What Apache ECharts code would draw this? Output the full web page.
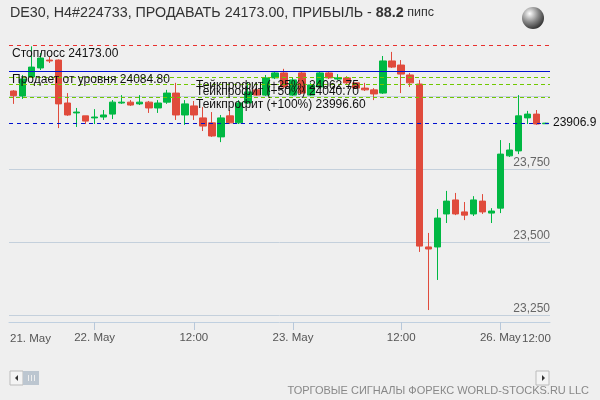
<!DOCTYPE html>
<html><head><meta charset="utf-8">
<script src="https://cdn.jsdelivr.net/npm/echarts@6/dist/echarts.min.js"></script>
<style>html,body{margin:0;padding:0;background:#efefef}#c{width:600px;height:400px}</style>
</head><body><div id="c"></div>
<script>
// categories (H4 candles)
const categories = [];
for (let i = 0; i < 60; i++) categories.push('c' + i);
// tick labels: index -> label
const tickLabels = {9:'22. May', 20:'12:00', 31:'23. May', 43:'12:00', 54:'26. May', 58:'12:00'};
const firstLabel = '21. May';
// candles: [open, close, low, high]
const candles = [
[24017,24001,23973,24020],[24000,24058,23990,24072],[24065,24099,24062,24170],[24096,24130,24089,24147],
[24123,24120,24113,24134],[24123,23973,23890,24125],[23976,23935,23932,24010],[23942,23945,23894,23959],
[23932,23914,23904,23932],[23925,23928,23904,23955],[23928,23935,23918,23952],[23938,23979,23921,23986],
[23976,23979,23973,24003],[23979,23969,23966,23986],[23973,23979,23969,24003],[23979,23959,23942,23983],
[23959,23976,23942,23986],[23979,24010,23973,24021],[24010,23935,23918,24045],[23935,23973,23901,23986],
[23966,23935,23918,23983],[23925,23897,23880,23962],[23908,23863,23860,23945],[23860,23925,23842,23935],
[23932,23908,23904,23952],[23908,23976,23904,23986],[23976,24014,23973,24048],[24021,24003,24000,24031],
[24003,24062,24000,24072],[24062,24079,24058,24082],[24079,24031,24027,24093],[24003,24055,24000,24062],
[24079,24010,24007,24082],[24003,24038,24000,24045],[24031,24079,24027,24082],[24079,24062,24058,24082],
[24058,24062,24055,24075],[24062,24045,24041,24068],[24045,24027,24024,24045],[24027,24021,24017,24045],
[24021,24007,23986,24027],[24010,24120,24007,24137],[24120,24099,24096,24151],[24106,24075,24010,24123],
[24072,24045,24031,24079],[24041,23486,23466,24055],[23483,23476,23267,23531],[23483,23582,23370,23613],
[23596,23640,23565,23675],[23644,23596,23592,23668],[23603,23592,23575,23637],[23596,23644,23589,23657],
[23640,23603,23596,23664],[23599,23606,23565,23616],[23616,23801,23599,23849],[23795,23815,23791,23839],
[23812,23932,23801,24003],[23925,23938,23904,23949],[23938,23904,23901,23952],[23905,23907,23905,23908]
];
const stopLoss = 24173.00, sellLevel = 24084.80, tp25 = 24062.75, tp50 = 24040.70, tp100 = 23996.60, lastPrice = 23906.9;

const chart = echarts.init(document.getElementById('c'));
const F = 'Liberation Sans, Arial, sans-serif';
const lbl = (t, pad) => ({show:true, position:'insideStartBottom', formatter:t, color:'#111', fontSize:12, fontFamily:F, distance:2, padding:[0,0,0,pad]});
chart.setOption({
  backgroundColor:'#efefef',
  animation:false,
  grid:{left:9, right:50, top:30, bottom:85, outerBoundsMode:'none', containLabel:false},
  xAxis:{type:'category', data:categories, offset:7,
    axisLine:{lineStyle:{color:'#c0d0e0'}},
    axisTick:{show:true, inside:false, alignWithLabel:true, length:8, lineStyle:{color:'#b8c8da', width:1}, interval:(i)=> (i in tickLabels) && i!==58},
    axisLabel:{interval:(i)=> (i in tickLabels) && i!==58, formatter:(v,i)=>tickLabels[i]||'', color:'#555', fontSize:11.5, fontFamily:F, margin:10, hideOverlap:false},
    splitLine:{show:false}},
  yAxis:{type:'value', position:'right', min:23250, max:24226, interval:250,
    axisLine:{show:false}, axisTick:{show:false},
    axisLabel:{inside:true, margin:0, verticalAlign:'bottom', color:'#666', fontSize:12, fontFamily:F, showMaxLabel:false,
      formatter:(v)=> (v===23250||v===23500||v===23750) ? echarts.format.addCommas(v) : ''},
    splitLine:{showMaxLine:false, lineStyle:{color:'#c4d0dc'}}},
  series:[{type:'candlestick', data:candles, barWidth:7,
    itemStyle:{color:'#00b843', color0:'#e04b3c', borderColor:'#00b843', borderColor0:'#e04b3c', borderWidth:1},
    markLine:{symbol:'none', silent:true, animation:false,
      data:[
        {yAxis:stopLoss, lineStyle:{color:'#e8302e', type:[4,4], width:1}, label:lbl('Стоплосс 24173.00',1)},
        {yAxis:sellLevel, lineStyle:{color:'#0010d0', type:'solid', width:1.2}, label:lbl('Продает от уровня 24084.80',1)},
        {yAxis:tp25, lineStyle:{color:'#70c800', type:[4,3], width:1}, label:lbl('Тейкпрофит (+25%) 24062.75',185)},
        {yAxis:tp50, lineStyle:{color:'#70c800', type:[4,3], width:1}, label:lbl('Тейкпрофит (+50%) 24040.70',185)},
        {yAxis:tp100, lineStyle:{color:'#70c800', type:[4,3], width:1}, label:lbl('Тейкпрофит (+100%) 23996.60',185)},
        {yAxis:lastPrice, lineStyle:{color:'#0010d0', type:[4,4], width:1}, label:{show:true, position:'end', formatter:'23906.9', color:'#111', fontSize:12, fontFamily:F, distance:3}}
      ]}
  }],
  graphic:[
    {type:'text', left:10, top:6, style:{text:'{a|DE30, H4#224733, ПРОДАВАТЬ 24173.00, ПРИБЫЛЬ - }{b|88.2}{c| пипс}',
      rich:{a:{fontSize:14.3, fontFamily:F, fill:'#333'}, b:{fontSize:14.3, fontFamily:F, fontWeight:'bold', fill:'#333'}, c:{fontSize:12.5, fontFamily:F, fill:'#333'}}}},
    {type:'text', left:10, top:333, style:{text:firstLabel, fontSize:11.5, fontFamily:F, fill:'#555'}},
    {type:'text', left:522, top:333, style:{text:tickLabels[58], fontSize:11.5, fontFamily:F, fill:'#555'}},
    {type:'circle', shape:{cx:533, cy:18, r:11}, style:{fill:new echarts.graphic.RadialGradient(0.35,0.3,0.8,[{offset:0,color:'#ffffff'},{offset:0.5,color:'#888'},{offset:1,color:'#222'}])}},
    {type:'rect', shape:{x:10, y:371, width:13, height:14}, style:{fill:'#f4f4f4', stroke:'#bbb'}},
    {type:'polygon', shape:{points:[[18,375],[18,381],[15,378]]}, style:{fill:'#333'}},
    {type:'rect', shape:{x:23, y:371, width:16, height:14}, style:{fill:'#bcc6d0'}},
    {type:'rect', shape:{x:28, y:375, width:1, height:6}, style:{fill:'#eee'}},
    {type:'rect', shape:{x:31, y:375, width:1, height:6}, style:{fill:'#eee'}},
    {type:'rect', shape:{x:34, y:375, width:1, height:6}, style:{fill:'#eee'}},
    {type:'rect', shape:{x:536, y:371, width:13, height:14}, style:{fill:'#f4f4f4', stroke:'#bbb'}},
    {type:'polygon', shape:{points:[[542,375],[542,381],[545,378]]}, style:{fill:'#333'}},
    {type:'text', right:11, top:385, style:{text:'ТОРГОВЫЕ СИГНАЛЫ ФОРЕКС WORLD-STOCKS.RU LLC', fontSize:11, fontFamily:F, fill:'#888'}}
  ]
});
</script></body></html>
